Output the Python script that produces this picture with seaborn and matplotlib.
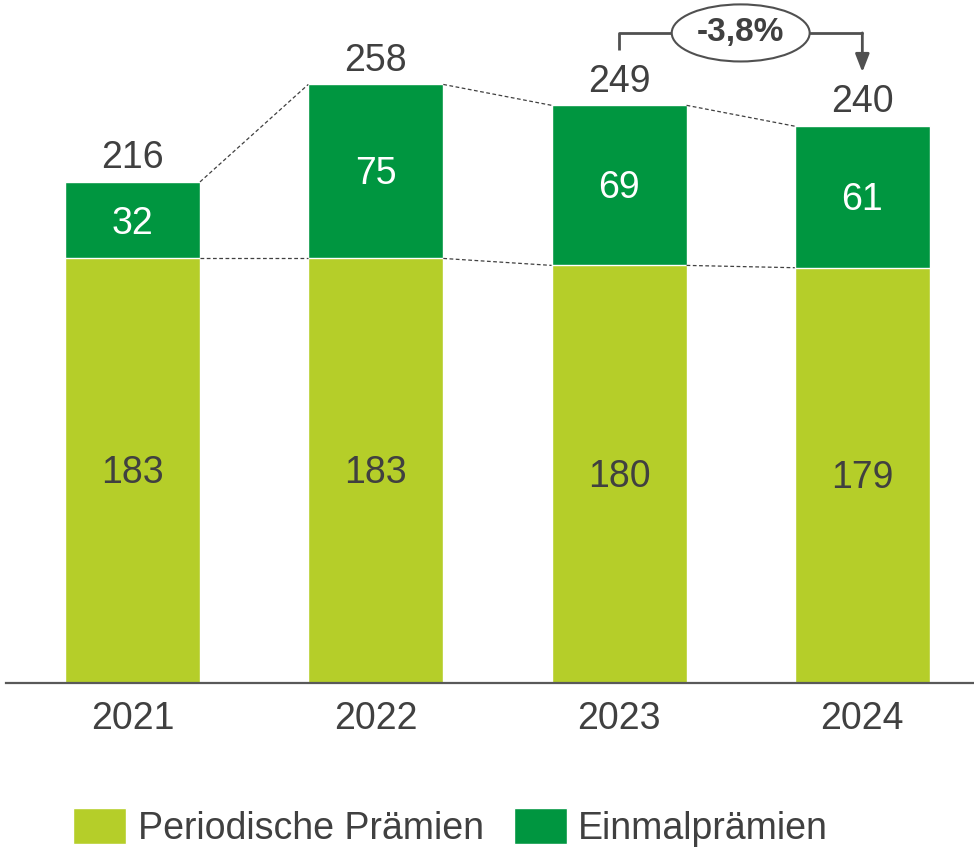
import matplotlib
matplotlib.use("Agg")
import matplotlib.pyplot as plt
from matplotlib.patches import Ellipse
import seaborn as sns
import pandas as pd

years = ["2021", "2022", "2023", "2024"]
periodisch = [183, 183, 180, 179]
einmal = [32, 75, 69, 61]
totals = [216, 258, 249, 240]
change_label = "-3,8%"
series_names = ["Periodische Prämien", "Einmalprämien"]

LIGHT = "#B5CE29"
DARK = "#009640"
TXT = "#404040"

sns.set_theme(style="white")
plt.rcParams["font.family"] = ["Liberation Sans", "DejaVu Sans"]

df = pd.DataFrame({"year": years, "periodisch": periodisch,
                   "einmal": einmal, "total": totals})

fig = plt.figure(figsize=(9.74, 8.49), dpi=100)
ax = fig.add_axes([6 / 974, (849 - 683) / 849, 1 - 6 / 974, 683 / 849])

W = 0.555
sns.barplot(data=df, x="year", y="total", order=years, color=DARK,
            width=W, saturation=1, ax=ax, label=series_names[1])
sns.barplot(data=df, x="year", y="periodisch", order=years, color=LIGHT,
            width=W, saturation=1, ax=ax, label=series_names[0])

ax.set_xlim(-0.52, 3.459)
ax.set_ylim(0, 683 / 2.32)

# dashed connectors
for i in range(len(years) - 1):
    ax.plot([i + W / 2, i + 1 - W / 2], [totals[i], totals[i + 1]],
            ls=(0, (3, 2)), color="#404040", lw=0.9)
    ax.plot([i + W / 2, i + 1 - W / 2], [periodisch[i], periodisch[i + 1]],
            ls=(0, (3, 2)), color="#404040", lw=0.9)

fs = 27
for i in range(len(years)):
    ax.text(i, totals[i] + 2.5, str(totals[i]), ha="center", va="bottom",
            fontsize=fs, color=TXT)
    ax.text(i, periodisch[i] + einmal[i] / 2 - 1.3, str(einmal[i]),
            ha="center", va="center", fontsize=fs, color="white")
    ax.text(i, periodisch[i] / 2 - 1.0, str(periodisch[i]), ha="center",
            va="center", fontsize=fs, color=TXT)

# change annotation
y_top = 280.2
ax.plot([2, 2, 2.5 - 0.284], [272.8, y_top, y_top], color="#505050",
        lw=2, clip_on=False, solid_capstyle="butt")
ax.annotate("", xy=(3, 263.3), xytext=(3, y_top),
            arrowprops=dict(arrowstyle="-|>,head_length=0.9,head_width=0.35",
                            color="#505050", lw=2, shrinkA=0, shrinkB=0),
            annotation_clip=False)
ax.plot([2.5 + 0.284, 3], [y_top, y_top], color="#505050", lw=2,
        clip_on=False)
ell = Ellipse((2.5, y_top), width=0.567, height=24.6, facecolor="white",
              edgecolor="#505050", lw=1.5, clip_on=False, zorder=5)
ax.add_patch(ell)
ax.text(2.5, y_top, change_label, ha="center", va="center", fontsize=24,
        fontweight="bold", color=TXT, zorder=6)

# axes styling
for s in ["top", "left", "right"]:
    ax.spines[s].set_visible(False)
ax.spines["bottom"].set_color("#595959")
ax.spines["bottom"].set_linewidth(1.6)
ax.set_yticks([])
ax.set_xlabel("")
ax.set_ylabel("")
ax.tick_params(axis="x", length=0, pad=13, labelsize=fs, labelcolor=TXT)

handles, labels = ax.get_legend_handles_labels()
hmap = dict(zip(labels, handles))
leg = fig.legend([hmap[n] for n in series_names], series_names,
                 loc="lower left", bbox_to_anchor=(73 / 974, 2 / 849),
                 ncol=2, frameon=False, fontsize=fs, labelcolor=TXT,
                 handlelength=1.42, handleheight=1.1, handletextpad=0.3,
                 columnspacing=0.8, borderpad=0, borderaxespad=0)
if ax.legend_:
    ax.legend_.remove()

fig.savefig("out.png", dpi=100)
